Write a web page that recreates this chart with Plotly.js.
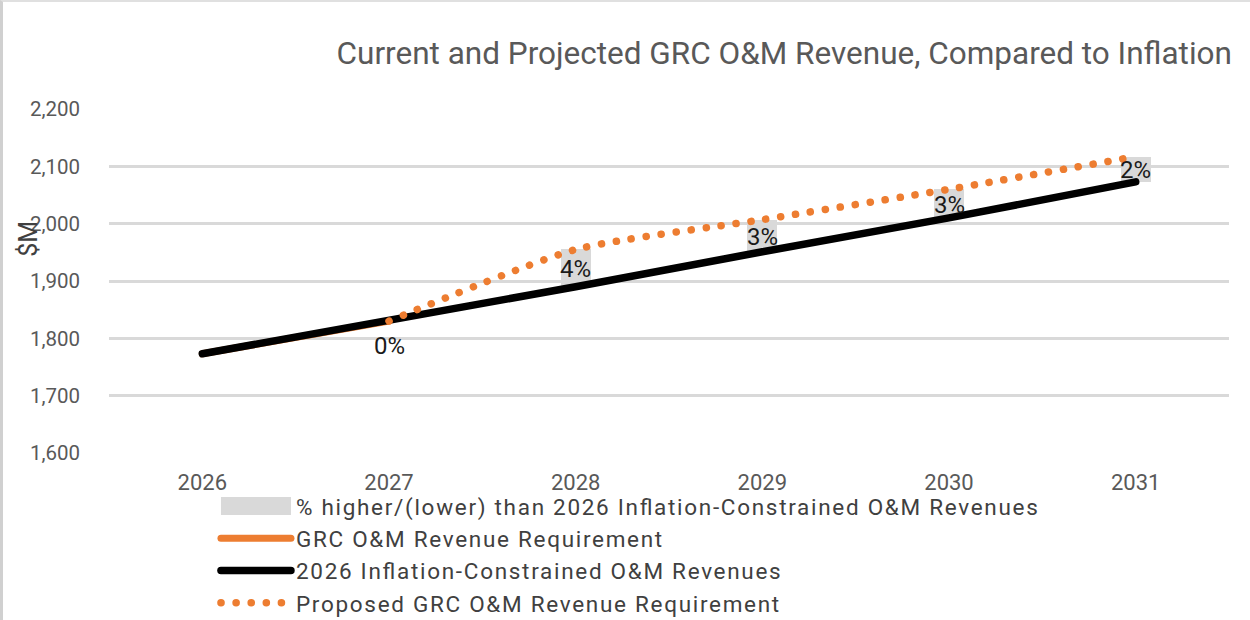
<!DOCTYPE html>
<html>
<head>
<meta charset="utf-8">
<script src="https://cdn.plot.ly/plotly-3.0.1.min.js"></script>
<style>
html,body{margin:0;padding:0;background:#fff;}
#frame{width:1250px;height:620px;box-sizing:border-box;border-left:3px solid #d0d0d0;border-top:2px solid #e0e0e0;position:relative;}
#chart{width:1247px;height:618px;}
path.js-line{stroke-linecap:round;}
.legendtext{letter-spacing:1.7px;}
</style>
</head>
<body>
<div id="frame"><div id="chart"></div></div>
<script>
const years = ['2026','2027','2028','2029','2030','2031'];
const grcRequirement = [1773, 1830, null, null, null, null];
const inflationConstrained = [1773, 1830, 1890, 1951, 2010, 2073];
const proposedRequirement = [null, 1830, 1955, 2007, 2060, 2117];
const pctLabels = [null, '0%', '4%', '3%', '3%', '2%'];

const barX = [], barBase = [], barH = [];
years.forEach((y, i) => {
  if (proposedRequirement[i] !== null) {
    barX.push(y);
    barBase.push(inflationConstrained[i]);
    barH.push(proposedRequirement[i] - inflationConstrained[i]);
  }
});

const FONT = 'Roboto, "Liberation Sans", Arial, sans-serif';
const inflTxt = 'In\uFB02ation';

const traces = [
  {type: 'bar', x: barX, y: barH, base: barBase, width: 0.16,
   marker: {color: '#d9d9d9'}, showlegend: false, hoverinfo: 'skip'},
  {type: 'scatter', mode: 'lines', x: [null], y: [null],
   line: {color: '#d9d9d9', width: 18},
   name: '% higher/(lower) than 2026 ' + inflTxt + '-Constrained O&M Revenues'},
  {type: 'scatter', mode: 'lines', x: years, y: grcRequirement,
   line: {color: '#ed7d31', width: 7}, name: 'GRC O&M Revenue Requirement'},
  {type: 'scatter', mode: 'lines', x: years, y: inflationConstrained,
   line: {color: '#000000', width: 7.5}, name: '2026 ' + inflTxt + '-Constrained O&M Revenues'},
  {type: 'scatter', mode: 'lines', x: years, y: proposedRequirement, connectgaps: false,
   line: {color: '#ed7d31', width: 7.5, dash: '0.1px,15px', shape: 'spline', smoothing: 0.6},
   name: 'Proposed GRC O&M Revenue Requirement'}
];

const annotations = [];
years.forEach((y, i) => {
  if (pctLabels[i]) {
    const mid = (inflationConstrained[i] + proposedRequirement[i]) / 2;
    annotations.push({x: i, y: mid, xref: 'x', yref: 'y', text: pctLabels[i], showarrow: false,
      yshift: (pctLabels[i] === '0%' ? -25 : -1),
      font: {family: FONT, size: 24, color: '#1a1a1a'}});
  }
});
annotations.push({x: -0.0725, y: 0.622, xref: 'paper', yref: 'paper', text: '$M', textangle: -90,
  showarrow: false, xanchor: 'center', yanchor: 'middle',
  font: {family: FONT, size: 25, color: '#404040'}});

const layout = {
  width: 1247, height: 618,
  margin: {l: 106, r: 21, t: 107, b: 167, autoexpand: false},
  paper_bgcolor: '#ffffff', plot_bgcolor: '#ffffff',
  font: {family: FONT, color: '#595959'},
  title: {text: 'Current and Projected GRC O&M Revenue, Compared to ' + inflTxt,
    x: 0.9855, xanchor: 'right', xref: 'container', y: 0.917, yanchor: 'middle',
    font: {family: FONT, size: 31.5, color: '#595959'}},
  xaxis: {type: 'category', categoryorder: 'array', categoryarray: years,
    range: [-0.5, 5.5], showgrid: false, zeroline: false, automargin: false,
    showline: false, ticks: '', ticklabelstandoff: 14,
    tickfont: {family: FONT, size: 22, color: '#595959'}},
  yaxis: {range: [1600, 2200], dtick: 100, tickformat: ',d', showgrid: true, automargin: false,
    gridcolor: '#d9d9d9', gridwidth: 3, zeroline: false, showline: false, ticks: '',
    ticklabelstandoff: 28,
    tickfont: {family: FONT, size: 20.5, color: '#595959'}},
  showlegend: true,
  legend: {orientation: 'v', x: 0.0955, xanchor: 'left', y: -0.093, yanchor: 'top',
    itemwidth: 70, tracegroupgap: 0, bgcolor: 'rgba(0,0,0,0)',
    font: {family: FONT, size: 22.5, color: '#404040'}},
  annotations: annotations,
  bargap: 0
};

Plotly.newPlot('chart', traces, layout, {displayModeBar: false, staticPlot: true}).then(gd => {
  const items = gd.querySelectorAll('.legend .traces');
  if (items.length) {
    const p = items[0].querySelector('path.js-line');
    if (p) { p.style.strokeWidth = '18px'; p.style.strokeLinecap = 'butt'; }
  }
});
</script>
</body>
</html>
